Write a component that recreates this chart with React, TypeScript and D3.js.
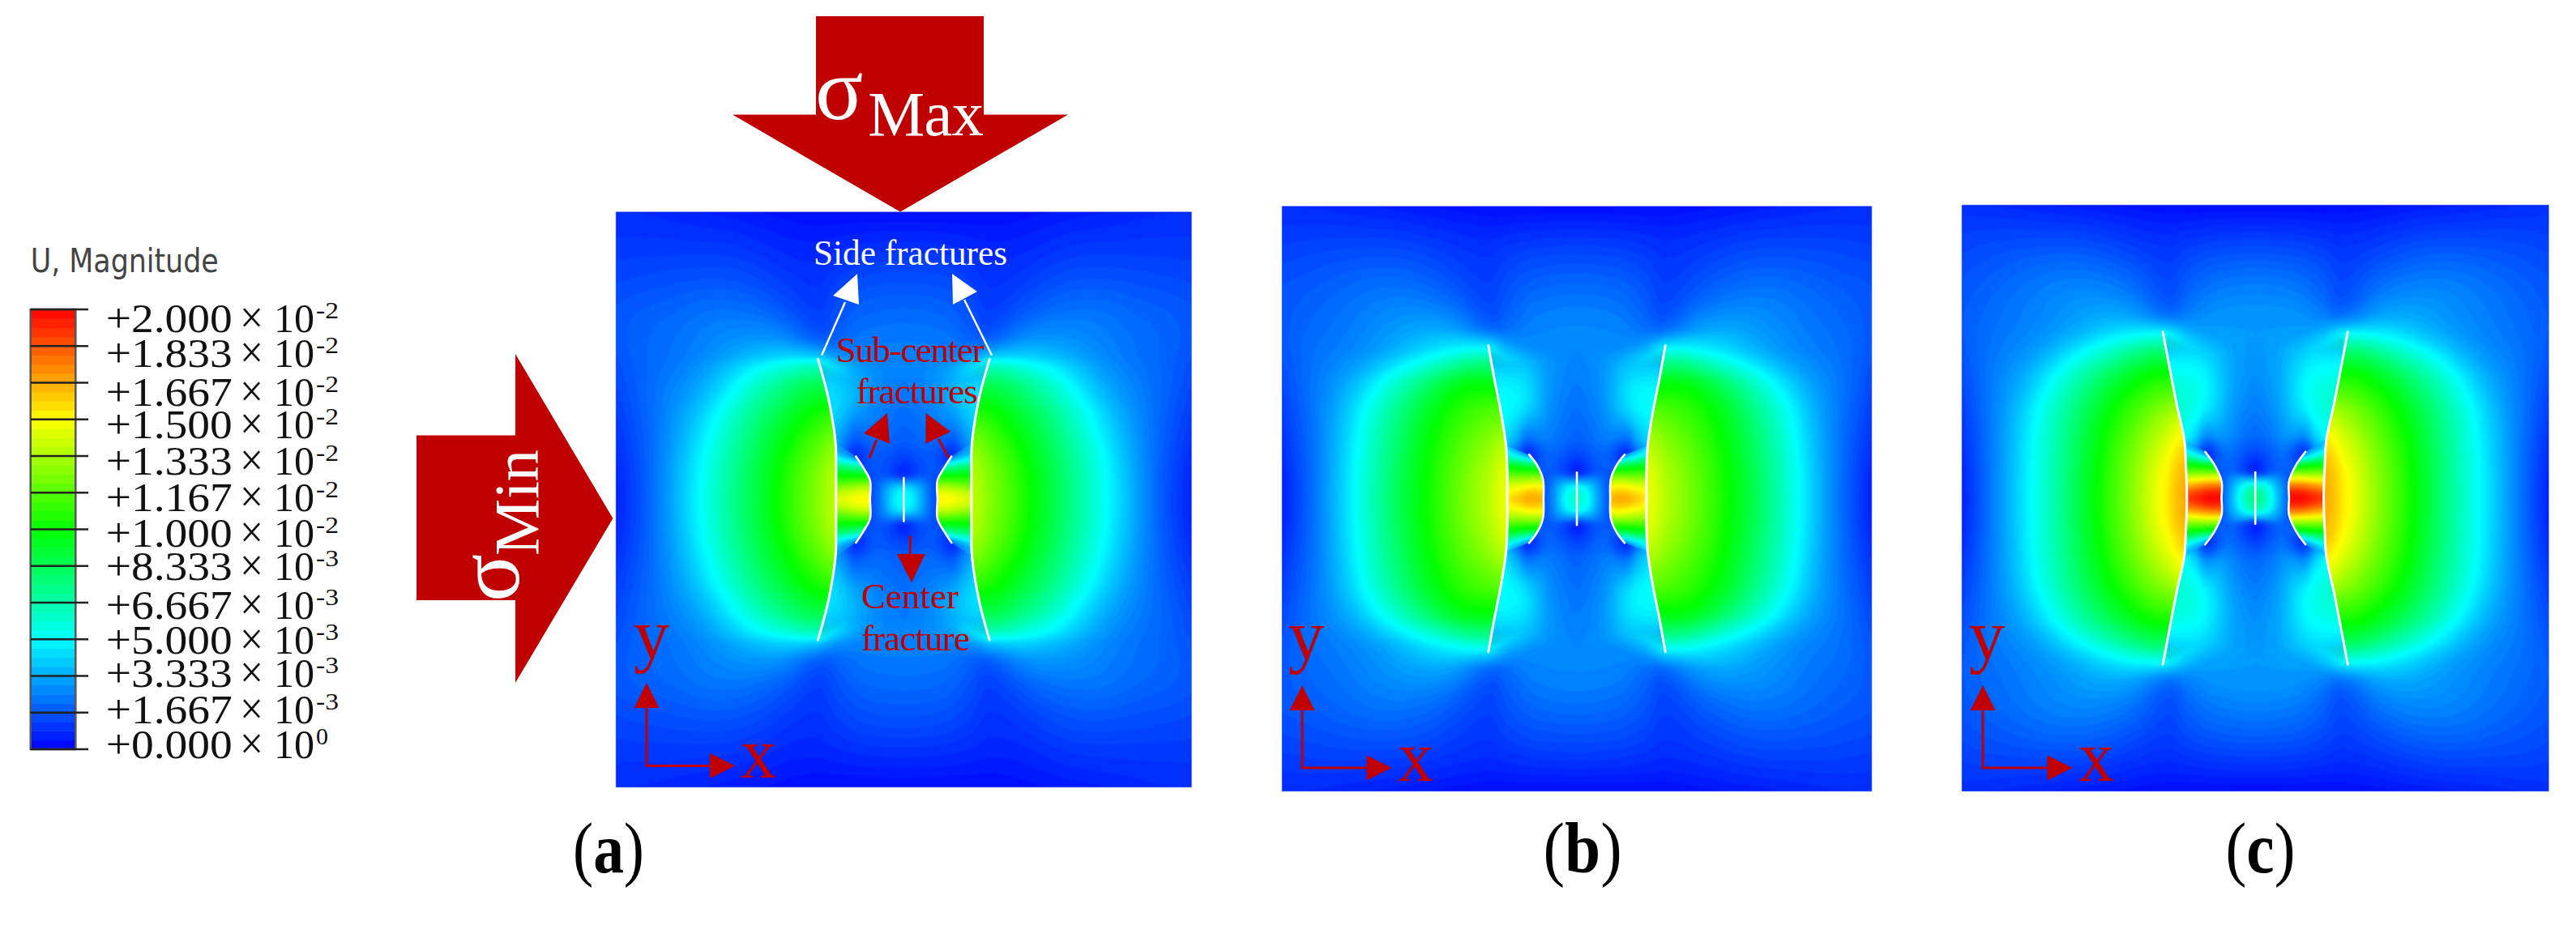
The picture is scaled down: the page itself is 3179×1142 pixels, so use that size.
import * as d3 from "d3";

// values are displacement magnitude in units of 1e-3
// fields are quarter panels (u = |x| from centre, v = |y| from centre, both 0..1)

const legendTicks = [20, 18.33, 16.67, 15, 13.33, 11.67, 10, 8.333, 6.667, 5, 3.333, 1.667, 0];
const legendMantissa = ["+2.000", "+1.833", "+1.667", "+1.500", "+1.333", "+1.167", "+1.000", "+8.333", "+6.667", "+5.000", "+3.333", "+1.667", "+0.000"];
const legendExponent = ["-2", "-2", "-2", "-2", "-2", "-2", "-2", "-3", "-3", "-3", "-3", "-3", "0"];
const legendBaselines = [410, 453, 501, 541, 586, 631, 675, 716, 764, 807, 848, 893, 936];

const colourStops = [0, 5, 10, 15, 20];
const colourValues = ["#0000ff", "#00ffff", "#00ff00", "#ffff00", "#ff0000"];

const outerU = [0, 0.15, 0.24, 0.3, 0.4, 0.5, 0.6, 0.7, 0.8, 0.9, 1];
const innerU = [0, 0.03, 0.06, 0.09, 0.115, 0.14, 0.17, 0.2, 0.25, 0.3];
const bridgeU = [0.1, 0.15, 0.19, 0.26];
const bridgeV = [0, 0.03, 0.06, 0.09, 0.12, 0.15, 0.18, 0.21];

const outerVA = [0, 0.15, 0.3, 0.4, 0.46, 0.5, 0.56, 0.65, 0.75, 0.87, 1];
const outerA = [
  [14, 14, 14, 12.8, 11, 9, 7.2, 5.2, 3.4, 1.6, 0.6],
  [13.5, 13.5, 13.5, 12.4, 10.6, 8.8, 6.9, 5, 3.2, 1.7, 0.8],
  [11, 11, 11, 10.5, 9, 7.7, 5.9, 4, 2.8, 1.9, 1.2],
  [3, 3, 7.5, 8.8, 7.7, 6.2, 4.5, 3.2, 2.5, 2, 1.4],
  [2.6, 2.6, 5, 7, 5.7, 5, 3.9, 2.9, 2.3, 2, 1.5],
  [2.5, 2.5, 2.6, 4, 4.2, 3.8, 3.2, 2.6, 2.2, 2, 1.6],
  [2.4, 2.4, 1.8, 1.2, 2.8, 3, 2.8, 2.5, 2.2, 2, 1.7],
  [2.1, 2, 1.5, 1, 1.6, 2.1, 2.3, 2.3, 2, 1.9, 1.7],
  [1.7, 1.6, 1.2, 0.9, 1.1, 1.5, 1.7, 1.7, 1.6, 1.5, 1.4],
  [1, 0.9, 0.8, 0.7, 0.7, 0.9, 1.1, 1.1, 1.1, 1.1, 1.1],
  [0.2, 0.2, 0.2, 0.2, 0.3, 0.4, 0.5, 0.6, 0.7, 0.8, 0.8],
];
const innerVA = [0, 0.04, 0.07, 0.09, 0.12, 0.15, 0.2, 0.3, 0.4, 0.5, 0.58];
const innerA = [
  [5.5, 5, 3.5, 2, 1.3, 2, 2, 2, 2, 2],
  [5, 4.5, 3.3, 2, 1.3, 2, 2, 2, 2, 2],
  [1.5, 2, 2.2, 1.8, 1.2, 1.6, 2, 2, 2, 2],
  [0.3, 1, 1.5, 1.6, 1.5, 1.5, 2, 2, 2, 2],
  [0.8, 1.2, 1.5, 1.7, 1.7, 1.4, 1, 2, 3, 3],
  [1.2, 1.4, 1.6, 1.7, 1.5, 1, 0.4, 1.5, 3.5, 3.5],
  [1.8, 1.9, 2, 2, 1.9, 1.7, 1.3, 2, 3.8, 4],
  [2.1, 2.2, 2.3, 2.5, 2.7, 3, 3.3, 3.8, 4.5, 5],
  [2.4, 2.5, 2.6, 2.8, 3, 3.3, 3.7, 4, 4.5, 4.5],
  [2.4, 2.5, 2.5, 2.5, 2.6, 2.6, 2.7, 2.8, 2.6, 2.2],
  [2.4, 2.4, 2.4, 2.4, 2.4, 2.4, 2.4, 2.4, 1.8, 1.2],
];
const bridgeA = [
  [15.3, 15.3, 15, 14],
  [14.5, 14.5, 14, 13.2],
  [12, 12, 11.5, 11],
  [9, 9.5, 9.5, 10],
  [5.5, 6, 7, 8],
  [1, 0.5, 2.5, 5],
  [2, 1, 2, 4],
  [3, 2.5, 3, 4],
];

const outerVB = [0, 0.15, 0.3, 0.4, 0.47, 0.52, 0.58, 0.68, 0.78, 0.89, 1];
const outerB = [
  [15, 15, 15, 13.8, 12.2, 10.4, 8.7, 6.3, 4, 2, 0.5],
  [14.5, 14.5, 14.5, 13.3, 11.8, 10.2, 8.3, 6.1, 3.9, 2, 0.8],
  [12, 12, 12, 11.5, 10.8, 9.6, 7.6, 5.6, 3.5, 2.2, 1.2],
  [3.2, 3.2, 9, 10, 9.9, 8, 6.2, 4.3, 3, 2.3, 1.4],
  [2.7, 2.7, 5.5, 7.5, 6.5, 5.2, 4.2, 3.2, 2.6, 2.2, 1.6],
  [2.6, 2.6, 3, 5.2, 4.6, 4.2, 3.4, 2.8, 2.4, 2.2, 1.7],
  [2.7, 2.7, 2, 1.3, 3.2, 3.4, 3.1, 2.7, 2.3, 2.1, 1.7],
  [2.4, 2.2, 1.7, 1.1, 1.8, 2.3, 2.5, 2.4, 2.1, 1.9, 1.7],
  [1.8, 1.7, 1.4, 1, 1.3, 1.7, 1.9, 1.9, 1.8, 1.6, 1.5],
  [1.1, 1, 0.9, 0.8, 0.9, 1, 1.2, 1.2, 1.2, 1.2, 1.1],
  [0.2, 0.2, 0.2, 0.2, 0.3, 0.4, 0.5, 0.6, 0.7, 0.8, 0.8],
];
const innerVB = [0, 0.04, 0.07, 0.09, 0.12, 0.15, 0.2, 0.3, 0.4, 0.52, 0.6];
const innerB = [
  [6.5, 5.8, 4, 2.2, 1.4, 2, 2, 2, 2, 2],
  [5.8, 5, 3.6, 2.2, 1.4, 2, 2, 2, 2, 2],
  [1.8, 2.4, 2.6, 2, 1.3, 1.8, 2, 2, 2, 2],
  [0.2, 0.9, 1.6, 1.8, 1.6, 1.6, 2, 2, 2, 2],
  [0.7, 1.2, 1.6, 1.9, 1.9, 1.5, 1, 2.5, 3.5, 3.5],
  [1.2, 1.5, 1.8, 2, 1.6, 0.9, 0.2, 1.5, 4, 4],
  [1.9, 2, 2.2, 2.4, 2.4, 2.2, 1.6, 3, 4.6, 4.8],
  [2.1, 2.3, 2.5, 2.8, 3.3, 3.9, 4.6, 5, 5.2, 5.4],
  [2.4, 2.5, 2.7, 3, 3.4, 3.9, 4.5, 4.8, 5, 5],
  [2.6, 2.7, 2.7, 2.8, 2.9, 3, 3, 3, 2.8, 2.2],
  [2.6, 2.6, 2.6, 2.6, 2.6, 2.6, 2.6, 2.6, 2, 1.3],
];
const bridgeB = [
  [16.5, 17.2, 16.8, 15],
  [15.5, 16, 15.5, 14.5],
  [14, 14, 13.5, 13.5],
  [11, 11, 11, 11.5],
  [7.5, 8, 8.5, 9.5],
  [1.5, 1, 3, 7],
  [2, 1, 2, 4.5],
  [3, 2.5, 3.5, 4.8],
];

const outerVC = [0, 0.15, 0.3, 0.42, 0.5, 0.56, 0.62, 0.7, 0.8, 0.9, 1];
const outerC = [
  [17, 17, 17, 15.8, 13.2, 11, 8.7, 6.3, 4.3, 2.3, 0.5],
  [16.5, 16.5, 16.5, 15.2, 12.8, 10.8, 8.5, 6.2, 4.3, 2.3, 0.8],
  [14, 14, 14, 13, 11.5, 10, 8, 6, 3.9, 2.4, 1.2],
  [3.5, 3.5, 9.5, 10.5, 9.8, 8.3, 6.6, 4.6, 3.1, 2.4, 1.5],
  [3, 3, 6, 8.5, 7.5, 6, 4.7, 3.4, 2.7, 2.3, 1.7],
  [3, 3, 3.5, 5.4, 4.8, 4.3, 3.5, 2.9, 2.5, 2.2, 1.8],
  [3, 3, 2.4, 1.5, 3.2, 3.4, 3.1, 2.7, 2.4, 2.1, 1.8],
  [2.7, 2.5, 1.9, 1.2, 2.3, 2.7, 2.8, 2.6, 2.3, 2, 1.7],
  [2, 1.8, 1.5, 1.1, 1.5, 1.9, 2.1, 2.1, 1.9, 1.7, 1.5],
  [1.1, 1, 0.9, 0.8, 0.9, 1.1, 1.3, 1.3, 1.3, 1.3, 1.2],
  [0.2, 0.2, 0.2, 0.2, 0.3, 0.4, 0.5, 0.6, 0.7, 0.8, 0.9],
];
const innerVC = [0, 0.04, 0.07, 0.09, 0.12, 0.155, 0.21, 0.31, 0.43, 0.57, 0.65];
const innerC = [
  [8, 7, 5, 3, 1.6, 2, 2, 2, 2, 2],
  [7, 6, 4.4, 2.8, 1.6, 2, 2, 2, 2, 2],
  [2.4, 3, 3.2, 2.4, 1.4, 1.8, 2, 2, 2, 2],
  [0.1, 0.9, 1.7, 2, 1.7, 1.7, 2, 2, 2, 2],
  [0.7, 1.2, 1.7, 2, 2, 1.6, 1, 2.5, 3.5, 3.5],
  [1.2, 1.5, 1.9, 2.2, 1.8, 0.9, 0.2, 2, 4.5, 4.5],
  [2, 2.2, 2.4, 2.8, 3, 3, 2.4, 4, 5.4, 5.6],
  [2.4, 2.6, 2.9, 3.3, 3.9, 4.5, 5.2, 5.7, 6, 6.2],
  [2.8, 3, 3.2, 3.5, 4, 4.4, 5, 5.3, 5.6, 5.8],
  [3, 3, 3, 3.1, 3.2, 3.2, 3.2, 3.2, 3, 2.4],
  [3, 3, 3, 3, 3, 3, 3, 2.9, 2.2, 1.5],
];
const bridgeC = [
  [20, 20.5, 20, 19],
  [19, 19, 18.5, 17],
  [16, 16, 15.5, 15],
  [12, 12, 12, 12],
  [8, 8.5, 9, 10],
  [2, 1, 3.5, 7],
  [2, 1, 2, 4.5],
  [3, 2.5, 3.5, 4.8],
];

// fracture traces, [u, v], from upper tip down to the horizontal midline
const sideA = [[0.298, 0.488], [0.263, 0.357], [0.237, 0.197], [0.235, 0.1], [0.235, 0]];
const subA = [[0.166, 0.15], [0.14, 0.11], [0.117, 0.066], [0.117, 0]];
const sideB = [[0.3, 0.523], [0.278, 0.4], [0.256, 0.288], [0.24, 0.18], [0.236, 0.1], [0.236, 0]];
const subB = [[0.162, 0.151], [0.135, 0.115], [0.115, 0.067], [0.113, 0]];
const sideC = [[0.315, 0.567], [0.269, 0.326], [0.242, 0.2], [0.236, 0.1], [0.233, 0]];
const subC = [[0.171, 0.158], [0.14, 0.115], [0.115, 0.058], [0.115, 0]];

const panels = [
  { id: "a", x0: 760, x1: 1470.6, y0: 261.5, y1: 972, outer: outerA, outerV: outerVA, inner: innerA, innerV: innerVA, bridge: bridgeA, side: sideA, sub: subA, centre: 0.075, label: "a", labelX: 707, labelW: 88 },
  { id: "b", x0: 1582, x1: 2310, y0: 254.5, y1: 977, outer: outerB, outerV: outerVB, inner: innerB, innerV: innerVB, bridge: bridgeB, side: sideB, sub: subB, centre: 0.09, label: "b", labelX: 1904.6, labelW: 97 },
  { id: "c", x0: 2421, x1: 3145.5, y0: 253, y1: 977, outer: outerC, outerV: outerVC, inner: innerC, innerV: innerVC, bridge: bridgeC, side: sideC, sub: subC, centre: 0.088, label: "c", labelX: 2746.5, labelW: 86 },
];

const axisMarks = [
  { ox: 798, oy: 945.5, up: 843, right: 907, headBase: 31, yX: 782, yY: 813, xX: 914, xY: 960 },
  { ox: 1607, oy: 948, up: 846, right: 1717.5, headBase: 31, yX: 1590, yY: 814, xX: 1725, xY: 964 },
  { ox: 2447, oy: 948, up: 846, right: 2557.5, headBase: 31, yX: 2430, yY: 814, xX: 2565, xY: 964 },
];

const RED = "#c00000";
const SERIF = "'Liberation Serif', 'Times New Roman', serif";

const colour = d3.scaleLinear<string>().domain(colourStops).range(colourValues).clamp(true);
const levels = d3.range(0.2, 20, 0.2);
const REFINE = 5;

function refine(rows: number[][]) {
  const resample = (a: number[]) => {
    const f = d3.interpolateBasis(a);
    const n = (a.length - 1) * REFINE;
    return d3.range(n + 1).map((i) => f(i / n));
  };
  const wide = rows.map(resample);
  const columns = d3.range(wide[0].length).map((j) => resample(wide.map((r) => r[j])));
  return { w: columns.length, h: columns[0].length, columns };
}

// contour bands of one quarter field, mirrored to a full one
function bandPaths(rows: number[][], uAxis: number[], vAxis: number[], mirrorU: boolean, sign: number, xs: any, ys: any) {
  const vFull = [...vAxis.slice().reverse(), ...vAxis.slice(1).map((v) => -v)];
  const rowsV = [...rows.slice().reverse(), ...rows.slice(1)];
  const uFull = mirrorU ? [...uAxis.slice().reverse().map((u) => -u), ...uAxis.slice(1)] : uAxis.map((u) => u * sign);
  const grid = mirrorU ? rowsV.map((r) => [...r.slice().reverse(), ...r.slice(1)]) : rowsV;
  const { w, h, columns } = refine(grid);
  const flat: number[] = new Array(w * h);
  for (let i = 0; i < w; i++) for (let j = 0; j < h; j++) flat[j * w + i] = columns[i][j];

  const uIndex = d3.scaleLinear().domain(uFull.map((_, i) => i * REFINE)).range(uFull).clamp(true);
  const vIndex = d3.scaleLinear().domain(vFull.map((_, i) => i * REFINE)).range(vFull).clamp(true);
  const path = d3.geoPath(
    d3.geoTransform({
      point(x, y) {
        this.stream.point(xs(uIndex(x - 0.5)), ys(vIndex(y - 0.5)));
      },
    })
  );
  return d3
    .contours()
    .size([w, h])
    .thresholds(levels)(flat)
    .filter((c) => c.coordinates.length > 0)
    .map((c) => ({ value: c.value, d: path(c as any) as string }));
}

function Bands({ bands }: { bands: { value: number; d: string }[] }) {
  return (
    <g filter="url(#soft)">
      {bands.map((b) => (
        <path key={b.value} d={b.d} fill={colour(b.value + 0.1)} />
      ))}
    </g>
  );
}

function Panel({ p }: { p: (typeof panels)[number] }) {
  const xs = d3.scaleLinear().domain([-1, 1]).range([p.x0, p.x1]);
  const ys = d3.scaleLinear().domain([-1, 1]).range([p.y1, p.y0]);
  const curve = d3
    .line<number[]>()
    .x((d) => xs(d[0]))
    .y((d) => ys(d[1]))
    .curve(d3.curveCatmullRom);

  // a trace from its upper tip to its lower tip, on one side of the panel
  const trace = (pts: number[][], s: number) => [
    ...pts.map((d) => [s * d[0], d[1]]),
    ...pts.slice(0, -1).reverse().map((d) => [s * d[0], -d[1]]),
  ];

  const innerClip = curve(trace(p.side, 1)) + (curve(trace(p.side, -1).reverse()) as string).replace("M", "L") + "Z";
  const bridgeClip = (s: number) => {
    const near = p.side.filter((d) => d[1] <= 0.21);
    return curve(trace(p.sub, s)) + (curve(trace(near, s).reverse()) as string).replace("M", "L") + "Z";
  };

  const outer = bandPaths(p.outer, outerU, p.outerV, true, 1, xs, ys);
  const inner = bandPaths(p.inner, innerU, p.innerV, true, 1, xs, ys);
  const right = bandPaths(p.bridge, bridgeU, bridgeV, false, 1, xs, ys);
  const left = bandPaths(p.bridge, bridgeU, bridgeV, false, -1, xs, ys);

  // the middle layer fades out at the tip level, where the field is continuous
  const tip = p.side[0][1];
  const fade = 0.07 / (2 * tip);

  return (
    <g>
      <defs>
        <clipPath id={`panel-${p.id}`}>
          <rect x={p.x0} y={p.y0} width={p.x1 - p.x0} height={p.y1 - p.y0} />
        </clipPath>
        <linearGradient id={`fade-${p.id}`} gradientUnits="userSpaceOnUse" x1={0} x2={0} y1={ys(tip)} y2={ys(-tip)}>
          <stop offset={0} stopColor="#000" />
          <stop offset={fade} stopColor="#fff" />
          <stop offset={1 - fade} stopColor="#fff" />
          <stop offset={1} stopColor="#000" />
        </linearGradient>
        <mask id={`inner-${p.id}`} maskUnits="userSpaceOnUse" x={p.x0} y={p.y0} width={p.x1 - p.x0} height={p.y1 - p.y0}>
          <path d={innerClip} fill={`url(#fade-${p.id})`} />
        </mask>
        <clipPath id={`bridge-r-${p.id}`}>
          <path d={bridgeClip(1)} />
        </clipPath>
        <clipPath id={`bridge-l-${p.id}`}>
          <path d={bridgeClip(-1)} />
        </clipPath>
      </defs>
      <g clipPath={`url(#panel-${p.id})`}>
        <rect x={p.x0} y={p.y0} width={p.x1 - p.x0} height={p.y1 - p.y0} fill={colour(0.3)} />
        <Bands bands={outer} />
      </g>
      <g mask={`url(#inner-${p.id})`}>
        <Bands bands={inner} />
      </g>
      <g clipPath={`url(#bridge-r-${p.id})`}>
        <Bands bands={right} />
      </g>
      <g clipPath={`url(#bridge-l-${p.id})`}>
        <Bands bands={left} />
      </g>
      <g fill="none" stroke="#fff" strokeLinecap="round">
        <path d={curve(trace(p.side, 1)) as string} strokeWidth={3} />
        <path d={curve(trace(p.side, -1)) as string} strokeWidth={3} />
        <path d={curve(trace(p.sub, 1)) as string} strokeWidth={2.6} />
        <path d={curve(trace(p.sub, -1)) as string} strokeWidth={2.6} />
        <line x1={xs(0)} x2={xs(0)} y1={ys(p.centre)} y2={ys(-p.centre)} strokeWidth={2.6} />
      </g>
      <rect x={p.x0} y={p.y0} width={p.x1 - p.x0} height={p.y1 - p.y0} fill="none" stroke="#7f9dff" strokeWidth={1} opacity={0.6} />
      <text x={p.labelX} y={1077} fontFamily={SERIF} fontSize={88} textLength={p.labelW} lengthAdjust="spacingAndGlyphs">
        (<tspan fontWeight="bold">{p.label}</tspan>)
      </text>
    </g>
  );
}

function Legend() {
  const y = d3.scaleLinear().domain([0, 20]).range([925, 382]);
  const sub = d3.range(48).map((i) => (i * 20) / 48);
  return (
    <g>
      <text x={37.7} y={336} fontFamily="'DejaVu Sans', sans-serif" fontSize={40} fill="#444" textLength={232} lengthAdjust="spacingAndGlyphs">
        U, Magnitude
      </text>
      {sub.map((v) => (
        <rect key={v} x={37.7} width={55.6} y={y(v + 20 / 48)} height={y(v) - y(v + 20 / 48) + 0.5} fill={colour(v + 20 / 96)} />
      ))}
      <rect x={37.7} y={382} width={55.6} height={543} fill="none" stroke="#555" strokeWidth={2.5} />
      {legendTicks.map((t, i) => (
        <g key={t}>
          <line x1={37.7} x2={109} y1={y(t)} y2={y(t)} stroke="#222" strokeWidth={2.5} />
          <g fontFamily={SERIF} fill="#111">
            <text x={130.7} y={legendBaselines[i]} fontSize={50} textLength={156} lengthAdjust="spacingAndGlyphs">
              {legendMantissa[i]}
            </text>
            <text x={296} y={legendBaselines[i] + 1} fontSize={56} textLength={29} lengthAdjust="spacingAndGlyphs">
              ×
            </text>
            <text x={338} y={legendBaselines[i]} fontSize={50} textLength={50} lengthAdjust="spacingAndGlyphs">
              10
            </text>
            <text x={390} y={legendBaselines[i] - 17} fontSize={30} textLength={legendExponent[i].length > 1 ? 28 : 15} lengthAdjust="spacingAndGlyphs">
              {legendExponent[i]}
            </text>
          </g>
        </g>
      ))}
    </g>
  );
}

function Poly({ points, fill }: { points: string; fill: string }) {
  return <polygon points={points} fill={fill} />;
}

function Annotations() {
  return (
    <g fontFamily={SERIF}>
      {/* load arrows */}
      <Poly fill={RED} points="1007,20 1214,20 1214,141.6 1318,141.6 1111,261.5 904,141.6 1007,141.6" />
      <Poly fill={RED} points="514,537.6 636,537.6 636,437 756.4,640 636,843 636,741 514,741" />
      <text x={1006} y={147} fontSize={110} fill="#fff">σ</text>
      <text x={1071} y={167} fontSize={79} fill="#fff" textLength={143} lengthAdjust="spacing">Max</text>
      <g transform="translate(640,743) rotate(-90)">
        <text fontSize={110} fill="#fff">σ</text>
      </g>
      <g transform="translate(664,686) rotate(-90)">
        <text fontSize={79} fill="#fff" textLength={131} lengthAdjust="spacing">Min</text>
      </g>

      {/* white labels */}
      <text x={1004} y={326.5} fontSize={45} fill="#fff" textLength={239} lengthAdjust="spacingAndGlyphs">Side fractures</text>
      <line x1={1014} y1={438.8} x2={1043} y2={373} stroke="#fff" strokeWidth={2.5} />
      <Poly fill="#fff" points="1058,338 1028,365 1060,376" />
      <line x1={1224} y1={438.8} x2={1190} y2={370} stroke="#fff" strokeWidth={2.5} />
      <Poly fill="#fff" points="1175,338 1206,360 1176,376" />

      {/* red labels */}
      <g fill={RED} fontSize={45}>
        <text x={1031.7} y={446.7} textLength={183} lengthAdjust="spacing">Sub-center</text>
        <text x={1056.7} y={498} textLength={150} lengthAdjust="spacing">fractures</text>
        <text x={1063} y={750.7} textLength={120} lengthAdjust="spacing">Center</text>
        <text x={1063} y={802.7} textLength={134} lengthAdjust="spacing">fracture</text>
      </g>
      <line x1={1072.7} y1={565.7} x2={1081.7} y2={543} stroke={RED} strokeWidth={3} />
      <Poly fill={RED} points="1095,510 1066,535 1098,547.7" />
      <line x1={1170.7} y1={565} x2={1158} y2={541.7} stroke={RED} strokeWidth={3} />
      <Poly fill={RED} points="1142.7,510 1173,533 1142.3,547.7" />
      <line x1={1123.3} y1={661.7} x2={1123.3} y2={686} stroke={RED} strokeWidth={3} />
      <Poly fill={RED} points="1107,684 1141.7,684 1125,719.3" />

      {/* coordinate marks */}
      {axisMarks.map((m) => (
        <g key={m.ox}>
          <path d={`M${m.ox},${m.up + m.headBase}V${m.oy}H${m.right - m.headBase}`} fill="none" stroke={RED} strokeWidth={3} />
          <Poly fill={RED} points={`${m.ox},${m.up} ${m.ox - 15.5},${m.up + m.headBase} ${m.ox + 15.5},${m.up + m.headBase}`} />
          <Poly fill={RED} points={`${m.right},${m.oy} ${m.right - m.headBase},${m.oy - 15.5} ${m.right - m.headBase},${m.oy + 15.5}`} />
          <text x={m.yX} y={m.yY} fontSize={88} fill={RED}>y</text>
          <text x={m.xX} y={m.xY} fontSize={88} fill={RED}>x</text>
        </g>
      ))}
    </g>
  );
}

export default function App() {
  return (
    <svg width={3179} height={1142} style={{ position: "absolute", left: 0, top: 0, background: "#fff" }}>
      <defs>
        <filter id="soft" x="-3%" y="-3%" width="106%" height="106%" colorInterpolationFilters="sRGB">
          <feGaussianBlur stdDeviation={1.3} />
        </filter>
      </defs>
      <Legend />
      {panels.map((p) => (
        <Panel key={p.id} p={p} />
      ))}
      <Annotations />
    </svg>
  );
}
